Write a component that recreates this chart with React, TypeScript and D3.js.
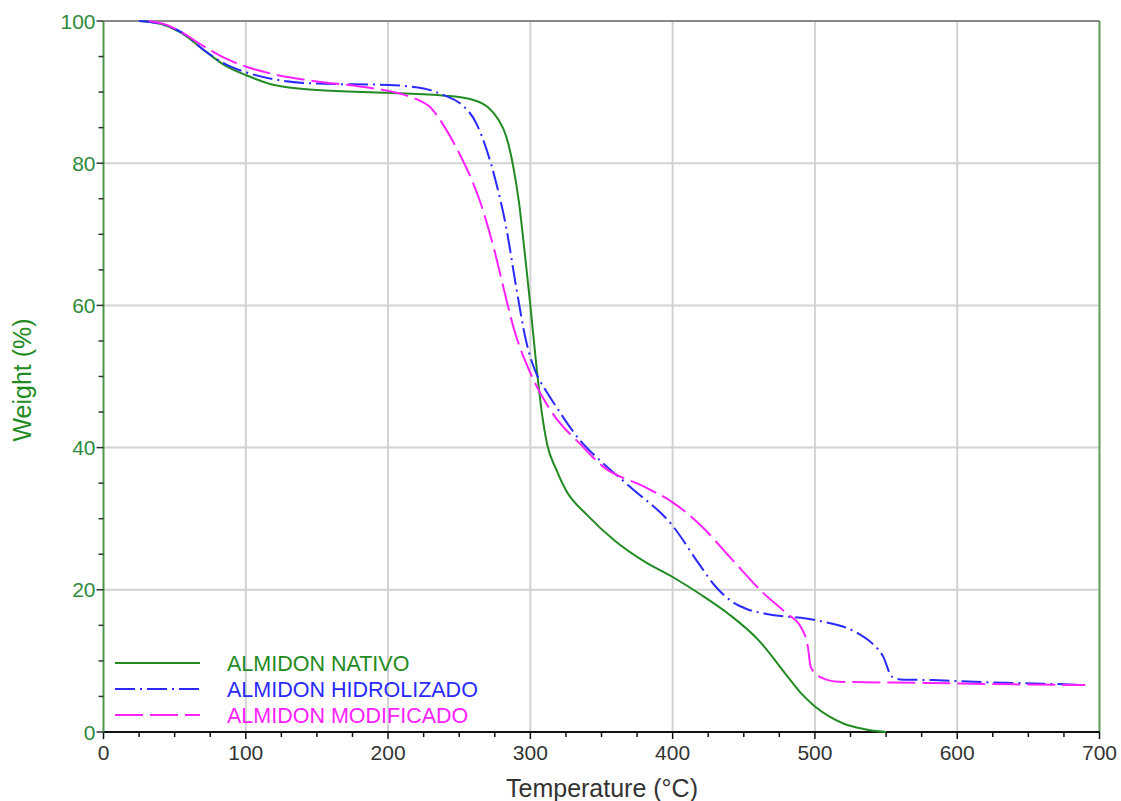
import React, { useEffect, useRef } from 'react';
import * as d3 from 'd3';

// curvas TGA (temperatura °C, peso %)
const nativoT = [25, 40, 55, 70, 85, 100, 120, 150, 200, 240, 260, 270, 277, 283, 288, 292, 296, 300, 304, 308, 312, 318, 325, 340, 360, 380, 400, 420, 440, 460, 480, 490, 500, 510, 520, 535, 550];
const nativoW = [100, 99.6, 98.3, 96, 93.8, 92.4, 91, 90.3, 89.9, 89.5, 88.9, 87.9, 86.3, 83.8, 79.5, 74.5, 67.5, 60, 52, 45, 40.3, 37, 34, 30.5, 26.8, 24, 21.8, 19.3, 16.5, 13, 8, 5.5, 3.6, 2.2, 1.2, 0.4, 0];

const hidroT = [25, 40, 55, 70, 85, 100, 120, 150, 200, 225, 240, 250, 262, 276, 283, 290, 297, 304, 310, 318, 335, 350, 370, 400, 419, 430, 442, 452, 466, 500, 530, 540, 548, 554, 560, 583, 620, 660, 690];
const hidroW = [100, 99.6, 98.4, 96, 94, 92.8, 91.8, 91.2, 91, 90.5, 89.5, 88.5, 85.6, 77.2, 71, 62.6, 55, 50.5, 48.3, 45.8, 41, 38, 34.5, 29, 23.5, 20.5, 18.3, 17.3, 16.6, 15.75, 13.9, 12.5, 10.6, 7.8, 7.4, 7.3, 7.0, 6.8, 6.6];

const modifT = [32, 45, 55, 70, 85, 100, 120, 150, 180, 208, 220, 230, 240, 250, 265, 274, 281, 288, 300, 314, 337, 350, 380, 400, 420, 442, 464, 480, 490, 495, 497, 503, 517, 580, 640, 690];
const modifW = [100, 99.4, 98.4, 96.5, 94.8, 93.6, 92.5, 91.5, 90.8, 89.8, 89, 87.8, 85, 81.4, 74.4, 68.3, 62.6, 57, 50.5, 45.3, 40.1, 37.5, 34.5, 32.3, 29, 24.2, 19.5, 16.7, 14.8, 12, 9.2, 7.8, 7.07, 6.9, 6.7, 6.6];

const seriesNames = ['ALMIDON NATIVO', 'ALMIDON HIDROLIZADO', 'ALMIDON MODIFICADO'];
const xTicks = [0, 100, 200, 300, 400, 500, 600, 700];
const yTicks = [0, 20, 40, 60, 80, 100];

const App = () => {
  const svgRef = useRef<SVGSVGElement>(null);

  useEffect(() => {
    const svg = d3.select(svgRef.current);
    svg.selectAll('*').remove();

    const width = 1121;
    const height = 801;
    const left = 103.5, right = 1099.5, top = 21, bottom = 732;
    const font = 'Liberation Sans, Arial, sans-serif';
    const green = '#228B22';

    const x = d3.scaleLinear().domain([0, 700]).range([left, right]);
    const y = d3.scaleLinear().domain([0, 100]).range([bottom, top]);

    svg.attr('width', width).attr('height', height);
    svg.append('rect').attr('width', width).attr('height', height).attr('fill', 'white');

    // rejilla
    const grid = svg.append('g');
    grid.selectAll('.gx').data(xTicks.slice(1, -1)).enter().append('line')
      .attr('x1', d => x(d)).attr('x2', d => x(d)).attr('y1', top).attr('y2', bottom)
      .attr('stroke', '#d2d2d2').attr('stroke-width', 2);
    grid.selectAll('.gy').data(yTicks.slice(1, -1)).enter().append('line')
      .attr('x1', left).attr('x2', right).attr('y1', d => y(d)).attr('y2', d => y(d))
      .attr('stroke', '#d2d2d2').attr('stroke-width', 2);

    // bordes
    svg.append('line').attr('x1', left).attr('x2', right).attr('y1', top).attr('y2', top)
      .attr('stroke', '#888').attr('stroke-width', 2);
    svg.append('line').attr('x1', right).attr('x2', right).attr('y1', top).attr('y2', bottom)
      .attr('stroke', '#5a9a5a').attr('stroke-width', 2);

    // eje X
    const xAxis = svg.append('g').attr('transform', `translate(0,${bottom})`);
    xAxis.append('line').attr('x1', left).attr('x2', right).attr('stroke', '#111').attr('stroke-width', 2);
    xAxis.selectAll('.mt').data(d3.range(0, 701, 25)).enter().append('line')
      .attr('x1', d => x(d)).attr('x2', d => x(d)).attr('y1', 0).attr('y2', d => d % 100 === 0 ? 7 : 5)
      .attr('stroke', '#111').attr('stroke-width', 1.5);
    xAxis.selectAll('.tl').data(xTicks).enter().append('text')
      .attr('x', d => x(d)).attr('y', 28).attr('text-anchor', 'middle')
      .style('font-family', font).style('font-size', '21px').attr('fill', '#333')
      .text(d => d);

    // eje Y
    const yAxis = svg.append('g');
    yAxis.append('line').attr('x1', left).attr('x2', left).attr('y1', top).attr('y2', bottom)
      .attr('stroke', '#4a9a4a').attr('stroke-width', 2);
    yAxis.selectAll('.mt').data(d3.range(0, 101, 5)).enter().append('line')
      .attr('x1', left).attr('x2', d => d % 20 === 0 ? left - 7 : left - 5)
      .attr('y1', d => y(d)).attr('y2', d => y(d))
      .attr('stroke', '#333').attr('stroke-width', 1.5);
    yAxis.selectAll('.tl').data(yTicks).enter().append('text')
      .attr('x', left - 8).attr('y', d => y(d) + 7.5).attr('text-anchor', 'end')
      .style('font-family', font).style('font-size', '21px').attr('fill', '#2e8a3a')
      .text(d => d);

    // títulos
    svg.append('text').attr('x', 602).attr('y', 797).attr('text-anchor', 'middle')
      .style('font-family', font).style('font-size', '25px').attr('fill', '#333')
      .text('Temperature (°C)');
    svg.append('text').attr('transform', `translate(31,${380}) rotate(-90)`).attr('text-anchor', 'middle')
      .style('font-family', font).style('font-size', '25px').attr('fill', green)
      .text('Weight (%)');

    // curvas
    const series = [
      { T: nativoT, W: nativoW, color: green, dash: null },
      { T: hidroT, W: hidroW, color: '#2a2aff', dash: '20,5,2,5' },
      { T: modifT, W: modifW, color: '#ff22ff', dash: '28,7' },
    ];
    const line = d3.line<[number, number]>()
      .x(d => x(d[0])).y(d => y(d[1]))
      .curve(d3.curveMonotoneX);

    series.forEach(s => {
      const pts = s.T.map((t, i) => [t, s.W[i]] as [number, number]);
      svg.append('path').attr('d', line(pts))
        .attr('fill', 'none').attr('stroke', s.color).attr('stroke-width', 2)
        .attr('stroke-dasharray', s.dash);
    });

    // leyenda
    const legendY = [663, 689, 715];
    series.forEach((s, i) => {
      svg.append('line').attr('x1', 115).attr('x2', 200).attr('y1', legendY[i]).attr('y2', legendY[i])
        .attr('stroke', s.color).attr('stroke-width', 2).attr('stroke-dasharray', s.dash);
      svg.append('text').attr('x', 227).attr('y', legendY[i] + 7.5)
        .style('font-family', font).style('font-size', '21.5px').attr('fill', s.color)
        .text(seriesNames[i]);
    });
  }, []);

  return (
    <div style={{ position: 'absolute', left: 0, top: 0 }}>
      <svg ref={svgRef} style={{ display: 'block' }} />
    </div>
  );
};

export default App;
